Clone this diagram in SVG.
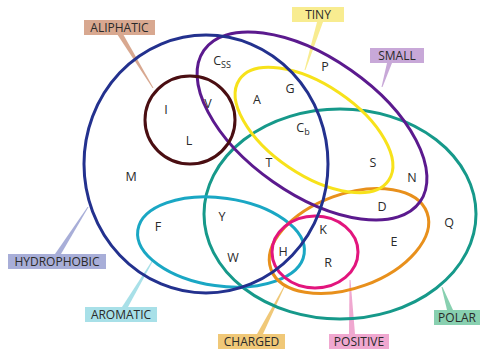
<svg xmlns="http://www.w3.org/2000/svg" width="484" height="355" viewBox="0 0 484 355">
<style>
.set{fill:none;stroke-width:3}
.lt{font-family:"Open Sans","Liberation Sans",sans-serif;font-size:12px;fill:#2a2a2a;text-anchor:middle}
.aa{font-family:"Open Sans","Liberation Sans",sans-serif;font-size:12.5px;fill:#2a2a2a;text-anchor:middle}
.sub{font-size:9px}
</style>
<rect width="484" height="355" fill="#fff"/>
<g id="leaders">
<polygon points="117,34 123,34 153.5,88 152.5,88" fill="#d8a890"/>
<polygon points="317,22 323,22 305.5,70 304.5,70" fill="#f8ec90"/>
<polygon points="387,63 392,63 382.5,87 381.5,87" fill="#c8a8d8"/>
<polygon points="55,254 61,254 88.5,207 87.5,207" fill="#a8aed8"/>
<polygon points="122,307 128,307 153.5,260 152.5,260" fill="#a8e0e8"/>
<polygon points="257,334 263,334 284.5,287 283.5,287" fill="#f0c878"/>
<polygon points="349,334 355,334 350.5,280 349.5,280" fill="#f0a8d0"/>
<polygon points="447,310 453,310 442.5,287 441.5,287" fill="#88d0b0"/>
</g>
<g id="sets">
<ellipse id="polar" class="set" cx="340" cy="214" rx="136" ry="105" stroke="#16998a"/>
<ellipse id="aromatic" class="set" cx="221" cy="242" rx="84" ry="44" transform="rotate(8 221 242)" stroke="#1aa7c4"/>
<ellipse id="charged" class="set" cx="349" cy="241" rx="83" ry="47" transform="rotate(-20 349 241)" stroke="#e8901c"/>
<ellipse id="positive" class="set" cx="315" cy="252" rx="43" ry="36" stroke="#e2157d"/>
<ellipse id="tiny" class="set" cx="314" cy="130" rx="90" ry="45" transform="rotate(34 314 130)" stroke="#f7e21b"/>
<ellipse id="small" class="set" cx="312" cy="126" rx="132" ry="68" transform="rotate(35 312 126)" stroke="#5b1a8e"/>
<ellipse id="aliphatic" class="set" cx="190" cy="120" rx="45" ry="44" stroke="#4a0e12"/>
<ellipse id="hydrophobic" class="set" cx="206" cy="164" rx="122" ry="129" stroke="#23318e"/>
</g>
<g id="labels">
<g id="lab-aliphatic"><rect x="84" y="20" width="71" height="15" fill="#d8a890"/><text class="lt" x="119.5" y="32">ALIPHATIC</text></g>
<g id="lab-tiny"><rect x="292" y="7" width="52" height="15" fill="#f8ec90"/><text class="lt" x="318" y="19">TINY</text></g>
<g id="lab-small"><rect x="370" y="48" width="54" height="15" fill="#c8a8d8"/><text class="lt" x="397" y="60">SMALL</text></g>
<g id="lab-hydrophobic"><rect x="8" y="254" width="98" height="15" fill="#a8aed8"/><text class="lt" x="57" y="266">HYDROPHOBIC</text></g>
<g id="lab-aromatic"><rect x="85" y="307" width="72" height="15" fill="#a8e0e8"/><text class="lt" x="121" y="319">AROMATIC</text></g>
<g id="lab-charged"><rect x="218" y="334" width="67" height="15" fill="#f0c878"/><text class="lt" x="251.5" y="346">CHARGED</text></g>
<g id="lab-positive"><rect x="329" y="334" width="60" height="15" fill="#f0a8d0"/><text class="lt" x="359" y="346">POSITIVE</text></g>
<g id="lab-polar"><rect x="434" y="310" width="46" height="15" fill="#88d0b0"/><text class="lt" x="457" y="322">POLAR</text></g>
</g>
<g id="aminoacids">
<text class="aa" x="222" y="65">C<tspan class="sub" dy="3">SS</tspan></text>
<text class="aa" x="325" y="71">P</text>
<text class="aa" x="290" y="93">G</text>
<text class="aa" x="257" y="104">A</text>
<text class="aa" x="303" y="132">C<tspan class="sub" dy="3">b</tspan></text>
<text class="aa" x="269" y="167">T</text>
<text class="aa" x="373" y="167">S</text>
<text class="aa" x="412" y="182">N</text>
<text class="aa" x="166" y="114">I</text>
<text class="aa" x="208" y="108">V</text>
<text class="aa" x="189" y="145">L</text>
<text class="aa" x="131" y="181">M</text>
<text class="aa" x="158" y="231">F</text>
<text class="aa" x="222" y="221">Y</text>
<text class="aa" x="233" y="262">W</text>
<text class="aa" x="283" y="256">H</text>
<text class="aa" x="323" y="234">K</text>
<text class="aa" x="328" y="267">R</text>
<text class="aa" x="382" y="211">D</text>
<text class="aa" x="394" y="246">E</text>
<text class="aa" x="449" y="227">Q</text>
</g>
</svg>
